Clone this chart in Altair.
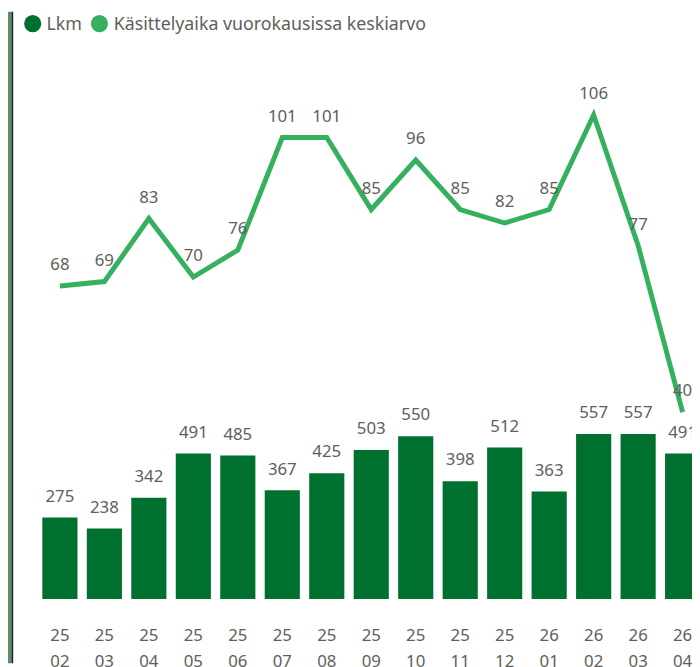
import altair as alt
import pandas as pd

# ---- data ----
months = ["25 02", "25 03", "25 04", "25 05", "25 06", "25 07", "25 08", "25 09",
          "25 10", "25 11", "25 12", "26 01", "26 02", "26 03", "26 04"]
lkm = [275, 238, 342, 491, 485, 367, 425, 503, 550, 398, 512, 363, 557, 557, 491]
kasittelyaika = [68, 69, 83, 70, 76, 101, 101, 85, 96, 85, 82, 85, 106, 77, 40]
series = ["Lkm", "Käsittelyaika vuorokausissa keskiarvo"]
colors = ["#00702E", "#34B05F"]

df = pd.DataFrame({"kk": months, "lkm": lkm, "aika": kasittelyaika})
leg = pd.DataFrame({"name": series, "color": colors})

FONT = "Segoe UI, Noto Sans, sans-serif"
GRAY = "#605E5C"

x_enc = alt.X(
    "kk:N", sort=None, title=None,
    scale=alt.Scale(range=[0, 675], paddingInner=0.21, paddingOuter=0.105),
    axis=alt.Axis(labelExpr="split(datum.value, ' ')", labelAngle=0, labelFontSize=17,
                  labelColor=GRAY, labelFont=FONT, labelLineHeight=26, labelPadding=29,
                  ticks=False, domain=False, labelOverlap=False, labelBound=False,
                  labelFlush=False, grid=False),
)
y_bar = alt.Y("lkm:Q", scale=alt.Scale(domain=[0, 1810], nice=False), axis=None)
y_line = alt.Y("aika:Q", scale=alt.Scale(domain=[-1.5, 117.5], nice=False, zero=False), axis=None)

base = alt.Chart(df)

bars = base.mark_bar(color=colors[0], clip=True).encode(x=x_enc, y=y_bar)
bar_text = base.mark_text(dy=-16, baseline="alphabetic", fontSize=17, color=GRAY,
                          font=FONT, clip=True).encode(x=x_enc, y=y_bar, text="lkm:Q")
line = base.mark_line(color=colors[1], strokeWidth=5, clip=True).encode(x=x_enc, y=y_line)
line_text = base.mark_text(dy=-16, baseline="alphabetic", fontSize=17, color=GRAY,
                           font=FONT, clip=True).encode(x=x_enc, y=y_line, text="aika:Q")

# manual legend
leg_layers = []
sym_x = [-5, 62.5]
txt_x = [9, 77]
for i in range(2):
    d = leg.iloc[[i]]
    leg_layers.append(
        alt.Chart(d).mark_point(filled=True, shape="circle", size=300, opacity=1,
                                color=colors[i]).encode(x=alt.value(sym_x[i]), y=alt.value(-40))
    )
    leg_layers.append(
        alt.Chart(d).mark_text(align="left", baseline="middle", fontSize=18, color=GRAY,
                               font=FONT).encode(x=alt.value(txt_x[i]), y=alt.value(-39), text="name:N")
    )

one = pd.DataFrame({"k": [0]})
edge_green = alt.Chart(one).mark_rule(color="#5E8E6B", strokeWidth=4).encode(
    x=alt.value(-28), y=alt.value(-52), y2=alt.value(607))
edge_black = alt.Chart(one).mark_rule(color="#222222", strokeWidth=1.5).encode(
    x=alt.value(-25.5), y=alt.value(-52), y2=alt.value(607))

chart = alt.layer(
    bars, bar_text, line, line_text, *leg_layers, edge_green, edge_black
).resolve_scale(y="independent").properties(
    width=662, height=542,
    padding={"left": 30, "top": 52, "right": 0, "bottom": 65},
    autosize=alt.AutoSizeParams(type="none"),
).configure_view(stroke=None)

chart.save("out.html", embed_options={"renderer": "svg", "actions": False})
